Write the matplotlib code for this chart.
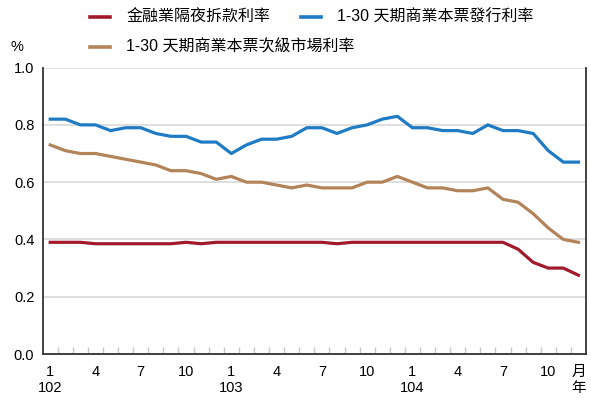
import matplotlib.pyplot as plt
from matplotlib.lines import Line2D
import numpy as np

plt.rcParams['font.family'] = ['Liberation Sans', 'Noto Sans CJK TC', 'DejaVu Sans']

# months 102/1 .. 104/12
months = list(range(1, 37))
overnight = [0.39, 0.39, 0.39, 0.385, 0.385, 0.385, 0.385, 0.385, 0.385, 0.39, 0.385, 0.39,
             0.39, 0.39, 0.39, 0.39, 0.39, 0.39, 0.39, 0.385, 0.39, 0.39, 0.39, 0.39,
             0.39, 0.39, 0.39, 0.39, 0.39, 0.39, 0.39, 0.366, 0.32, 0.30, 0.30, 0.275]
cp_issue = [0.82, 0.82, 0.80, 0.80, 0.78, 0.79, 0.79, 0.77, 0.76, 0.76, 0.74, 0.74,
            0.70, 0.73, 0.75, 0.75, 0.76, 0.79, 0.79, 0.77, 0.79, 0.80, 0.82, 0.83,
            0.79, 0.79, 0.78, 0.78, 0.77, 0.80, 0.78, 0.78, 0.77, 0.71, 0.67, 0.67]
cp_secondary = [0.73, 0.71, 0.70, 0.70, 0.69, 0.68, 0.67, 0.66, 0.64, 0.64, 0.63, 0.61,
                0.62, 0.60, 0.60, 0.59, 0.58, 0.59, 0.58, 0.58, 0.58, 0.60, 0.60, 0.62,
                0.60, 0.58, 0.58, 0.57, 0.57, 0.58, 0.54, 0.53, 0.49, 0.44, 0.40, 0.39]

series_names = ['金融業隔夜拆款利率', '1-30 天期商業本票發行利率', '1-30 天期商業本票次級市場利率']
colors = ['#a11a2c', '#1f7bc4', '#b3835a']

tick_pos = [1, 4, 7, 10, 13, 16, 19, 22, 25, 28, 31, 34, 36]
tick_labels = ['1', '4', '7', '10', '1', '4', '7', '10', '1', '4', '7', '10', '月']
year_pos = [1, 13, 25, 36]
year_labels = ['102', '103', '104', '年']

W, H = 591, 400
fig = plt.figure(figsize=(W / 100, H / 100), dpi=100)
ax = fig.add_axes([0.0722, 0.115, 0.9193, 0.716])

for vals, c in zip([overnight, cp_issue, cp_secondary], colors):
    ax.plot(months, vals, color=c, lw=2.3, solid_joinstyle='round')

ax.set_xlim(0.5, 36.5)
ax.set_ylim(0, 1.0)
ax.set_yticks(np.arange(0, 1.01, 0.2))
ax.set_yticklabels([f'{v:.1f}' for v in np.arange(0, 1.01, 0.2)], fontsize=10.5)
ax.yaxis.grid(True, color='#d9d9d9', lw=1.2)
ax.set_axisbelow(True)
ax.tick_params(axis='y', length=0, pad=6)

ax.set_xticks(tick_pos)
ax.set_xticklabels(tick_labels, fontsize=10.5)
ax.tick_params(axis='x', which='major', length=0, pad=8)
ax.set_xticks(np.arange(1.5, 36, 1), minor=True)
ax.tick_params(axis='x', which='minor', direction='in', length=5, color='#c8c8c8', width=1)

for p, t in zip(year_pos, year_labels):
    ax.text(p, -0.119, t, ha='center', va='center', fontsize=10.5,
            transform=ax.get_xaxis_transform())

for s in ['left', 'bottom', 'right']:
    ax.spines[s].set_color('#333333')
    ax.spines[s].set_linewidth(1.3)
ax.spines['top'].set_visible(False)

fig.text(17 / W, 1 - 47 / H, '%', fontsize=10.5, ha='center', va='center')

# legend drawn by hand: (handle x, text x, y) in pixels
legend_spots = [(90, 126, 17), (301, 337, 17), (90, 126, 47)]
for (hx, tx, y), name, c in zip(legend_spots, series_names, colors):
    fy = 1 - y / H
    fig.add_artist(Line2D([hx / W, (hx + 20) / W], [fy, fy], color=c, lw=2.6,
                          transform=fig.transFigure))
    fig.text(tx / W, fy, name, fontsize=11.5, ha='left', va='center')

fig.savefig('out.png', dpi=100)
